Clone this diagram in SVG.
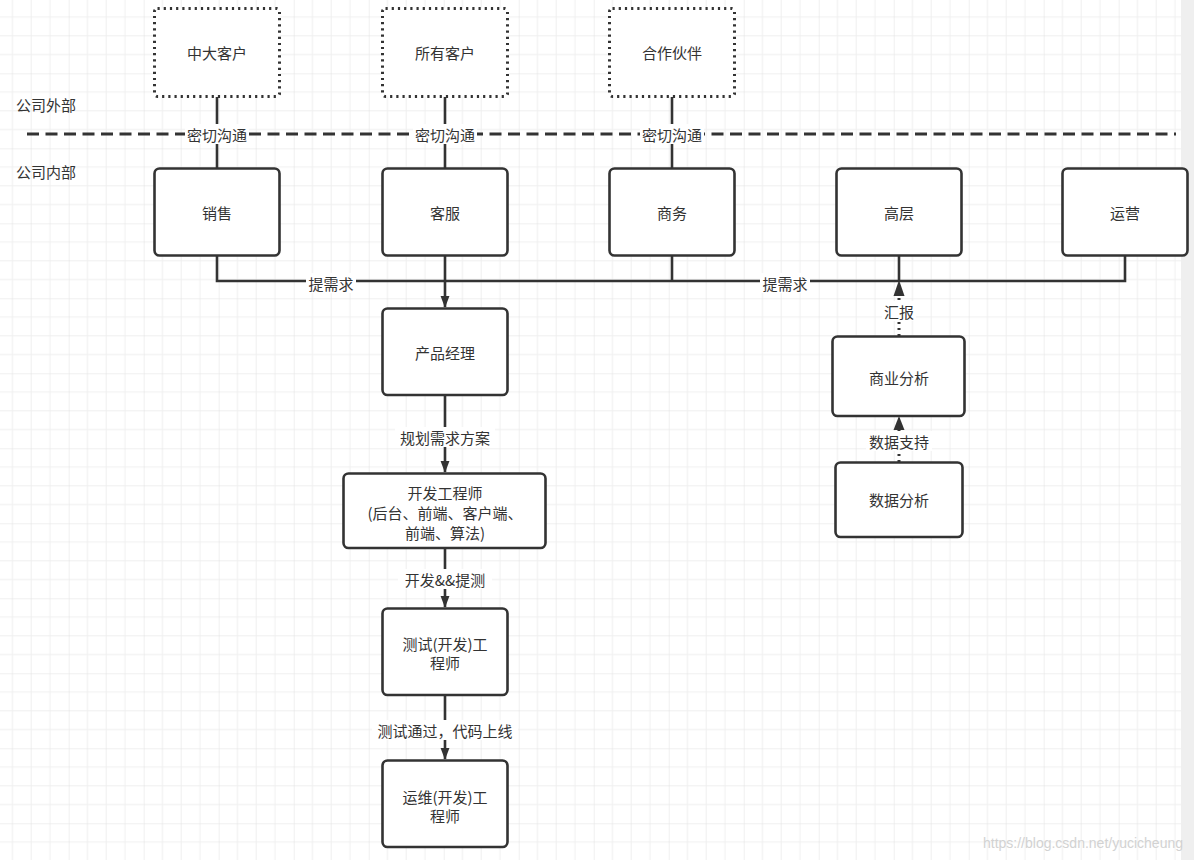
<svg xmlns="http://www.w3.org/2000/svg" width="1194" height="860" viewBox="0 0 1194 860">
<style>
text{font-family:"Noto Sans CJK SC","Noto Sans",sans-serif;font-size:15px;fill:#333;}
.c{text-anchor:middle;dominant-baseline:central;}
.box{fill:#fff;stroke:#333;stroke-width:2.6;}
.ext{fill:#fff;stroke:#333;stroke-width:3;stroke-dasharray:2.2 4;}
.ln{fill:none;stroke:#333;stroke-width:2.6;}
.dot{fill:none;stroke:#333;stroke-width:3;stroke-dasharray:2 4;}
.lbl{fill:#fff;}
</style>
<defs>
<pattern id="grid" patternUnits="userSpaceOnUse" x="-6.3" y="-1.7" width="75" height="75">
<path d="M18.75 0V75M37.5 0V75M56.25 0V75M0 18.75H75M0 37.5H75M0 56.25H75" stroke="#efefef" stroke-width="1"/>
<path d="M0 0V75M0 0H75" stroke="#e2e2e2" stroke-width="1"/>
</pattern>
<marker id="arr" markerUnits="userSpaceOnUse" markerWidth="12" markerHeight="16" refX="15" refY="6" orient="auto" viewBox="0 0 16 12">
<path d="M0 0L16 6L0 12z" fill="#333"/>
</marker>
</defs>
<rect width="1194" height="860" fill="#fff"/>
<rect width="1181" height="860" fill="url(#grid)"/>
<rect x="1181" y="0" width="13" height="860" fill="#efefef"/>

<text x="16" y="104" style="dominant-baseline:central">公司外部</text>
<text x="16" y="171" style="dominant-baseline:central">公司内部</text>
<line x1="27" y1="134" x2="1176" y2="134" stroke="#333" stroke-width="3" stroke-dasharray="12 6.5"/>

<g id="connectors">
<line class="ln" x1="217" y1="97" x2="217" y2="168"/>
<line class="ln" x1="445" y1="97" x2="445" y2="168"/>
<line class="ln" x1="672" y1="97" x2="672" y2="168"/>
<rect class="lbl" x="185" y="124" width="64" height="20"/>
<text class="c" x="217" y="134">密切沟通</text>
<rect class="lbl" x="413" y="124" width="64" height="20"/>
<text class="c" x="445" y="134">密切沟通</text>
<rect class="lbl" x="640" y="124" width="64" height="20"/>
<text class="c" x="672" y="134">密切沟通</text>

<path class="ln" d="M217 256V281H1125V256"/>
<line class="ln" x1="672" y1="256" x2="672" y2="281"/>
<line class="ln" x1="899" y1="256" x2="899" y2="281"/>
<line class="ln" x1="445" y1="256" x2="445" y2="307" marker-end="url(#arr)"/>
<rect class="lbl" x="306" y="273" width="50" height="20"/>
<text class="c" x="331" y="283">提需求</text>
<rect class="lbl" x="760" y="273" width="50" height="20"/>
<text class="c" x="785" y="283">提需求</text>

<line class="dot" x1="899" y1="336" x2="899" y2="294"/>
<path d="M893.5 296L899 280L904.5 296z" fill="#333"/>
<rect class="lbl" x="882" y="301" width="34" height="20"/>
<text class="c" x="899" y="311">汇报</text>

<line class="dot" x1="899" y1="462" x2="899" y2="428"/>
<path d="M893.5 430L899 416L904.5 430z" fill="#333"/>
<rect class="lbl" x="866" y="431" width="66" height="20"/>
<text class="c" x="899" y="441">数据支持</text>

<line class="ln" x1="445" y1="395" x2="445" y2="472" marker-end="url(#arr)"/>
<rect class="lbl" x="395" y="427" width="100" height="20"/>
<text class="c" x="445" y="437">规划需求方案</text>

<line class="ln" x1="445" y1="548" x2="445" y2="607" marker-end="url(#arr)"/>
<rect class="lbl" x="398" y="569" width="94" height="20"/>
<text class="c" x="445" y="579">开发&amp;&amp;提测</text>

<line class="ln" x1="445" y1="695" x2="445" y2="759" marker-end="url(#arr)"/>
<rect class="lbl" x="372" y="720" width="146" height="20"/>
<text class="c" x="445" y="730">测试通过，代码上线</text>
</g>

<g id="n-zhongda"><rect class="ext" x="154.5" y="8.5" width="125" height="88" rx="3"/><text class="c" x="217" y="52">中大客户</text></g>
<g id="n-suoyou"><rect class="ext" x="382.5" y="8.5" width="125" height="88" rx="3"/><text class="c" x="445" y="52">所有客户</text></g>
<g id="n-hezuo"><rect class="ext" x="609.5" y="8.5" width="125" height="88" rx="3"/><text class="c" x="672" y="52">合作伙伴</text></g>

<g id="n-xiaoshou"><rect class="box" x="154.5" y="168.5" width="125" height="87" rx="5"/><text class="c" x="217" y="212">销售</text></g>
<g id="n-kefu"><rect class="box" x="382.5" y="168.5" width="125" height="87" rx="5"/><text class="c" x="445" y="212">客服</text></g>
<g id="n-shangwu"><rect class="box" x="609.5" y="168.5" width="125" height="87" rx="5"/><text class="c" x="672" y="212">商务</text></g>
<g id="n-gaoceng"><rect class="box" x="836.5" y="168.5" width="125" height="87" rx="5"/><text class="c" x="899" y="212">高层</text></g>
<g id="n-yunying"><rect class="box" x="1062.5" y="168.5" width="125" height="87" rx="5"/><text class="c" x="1125" y="212">运营</text></g>

<g id="n-pm"><rect class="box" x="382.5" y="308.5" width="125" height="86.5" rx="5"/><text class="c" x="445" y="352">产品经理</text></g>
<g id="n-dev"><rect class="box" x="343.5" y="473.5" width="202" height="74.5" rx="5"/>
<text class="c" x="445" y="492">开发工程师</text><text class="c" x="445" y="512">(后台、前端、客户端、</text><text class="c" x="445" y="532">前端、算法)</text></g>
<g id="n-test"><rect class="box" x="382.5" y="608.5" width="125" height="86.5" rx="5"/>
<text class="c" x="445" y="643">测试(开发)工</text><text class="c" x="445" y="662">程师</text></g>
<g id="n-ops"><rect class="box" x="382.5" y="760.5" width="125" height="86.5" rx="5"/>
<text class="c" x="445" y="796">运维(开发)工</text><text class="c" x="445" y="815">程师</text></g>

<g id="n-biz"><rect class="box" x="832.5" y="336.5" width="132" height="79.5" rx="5"/><text class="c" x="899" y="377">商业分析</text></g>
<g id="n-data"><rect class="box" x="835.5" y="462.5" width="127" height="74.5" rx="5"/><text class="c" x="899" y="499">数据分析</text></g>

<text x="1183" y="843" style="font-family:'Liberation Sans',sans-serif;font-size:14px;fill:#d2d2d2;text-anchor:end;dominant-baseline:central">https://blog.csdn.net/yucicheung</text>
</svg>
